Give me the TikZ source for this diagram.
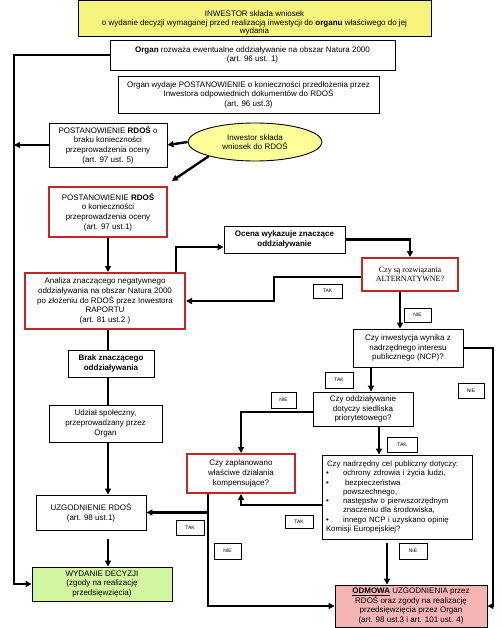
\documentclass[tikz,border=0pt]{standalone}
\usepackage{fontspec}
\setmainfont{Liberation Sans}
\newfontfamily\serifface{Liberation Serif}
\usetikzlibrary{arrows.meta,shapes.geometric}
\definecolor{boxred}{RGB}{192,40,40}
\definecolor{topyellow}{RGB}{245,245,125}
\definecolor{ellyellow}{RGB}{255,255,153}
\definecolor{boxgreen}{RGB}{210,245,160}
\definecolor{boxpink}{RGB}{245,180,180}

\begin{document}
\begin{tikzpicture}[x=1pt,y=-1pt]
    		\newcommand{\leftx}{14} % left rail
    		\newcommand{\rightx}{493} % right rail
    		\newcommand{\midx}{108} % main column
    		\newcommand{\tip}{6pt} % size of the arrow tips

    		% set the styles of the boxes and the connectors
    		\tikzset{
    			box/.style={
    				draw,
    				line width=0.9pt,
    				fill=white,
    				align=center,
    				inner sep=1pt,
    				font=\fontsize{8}{9.6}\selectfont
    				},
    			redbox/.style={box, draw=boxred, line width=2pt},
    			tag/.style={draw, line width=0.8pt, fill=white, inner sep=0pt, font=\fontsize{5}{5}\selectfont},
    			conn/.style={line width=2.4pt},
    			arr/.style={conn, -{Triangle[length=\tip,width=\tip]}}
    		}

    		\useasboundingbox[fill=white] (0,0) rectangle (501,628);

    		% rails
    		\coordinate (leftrail) at (\leftx,0);
    		\coordinate (rightrail) at (\rightx,0);
    		\coordinate (midcol) at (\midx,0);
    		\coordinate (takbend) at (274,0);
    		\coordinate (kontip) at (172,181);

    		% top of the procedure
    		\node[box, fill=topyellow, minimum width=353pt, minimum height=36pt, inner ysep=0.5pt, font=\fontsize{8}{8.4}\selectfont] (inwestor) at (254.5,18)
    			{\rule{0pt}{16pt}INWESTOR składa wniosek\\o wydanie decyzji wymaganej przed realizacją inwestycji do \textbf{organu} właściwego do jej\\wydania};
    		\node[box, minimum width=285pt, minimum height=30pt] (organ) at (252.5,55)
    			{\textbf{Organ} rozważa ewentualne oddziaływanie na obszar Natura 2000\\(art. 96 ust. 1)};
    		\node[box, minimum width=261pt, minimum height=37pt] (postorgan) at (248.5,94.5)
    			{Organ wydaje POSTANOWIENIE o konieczności przedłożenia przez\\Inwestora  odpowiednich  dokumentów do RDOŚ\\(art. 96 ust.3)};

    		% RDOS
    		\node[box, minimum width=118pt, minimum height=44pt] (braku) at (108,145)
    			{POSTANOWIENIE \textbf{RDOŚ} o\\braku konieczności\\przeprowadzenia oceny\\(art. 97 ust. 5)};
    		\node[box, ellipse, fill=ellyellow, minimum width=134pt, minimum height=38pt] (wniosek) at (255,142)
    			{Inwestor składa\\wniosek do RDOŚ};
    		\node[redbox, minimum width=118pt, minimum height=50pt] (koniecz) at (108,212)
    			{POSTANOWIENIE \textbf{RDOŚ}\\o konieczności\\przeprowadzenia oceny\\(art. 97 ust.1)};
    		\node[redbox, minimum width=160pt, minimum height=56pt] (analiza) at (105,301)
    			{Analiza znaczącego negatywnego\\oddziaływania na obszar Natura 2000\\po złożeniu do RDOŚ  przez Inwestora\\RAPORTU\\(art. 81 ust.2 )};
    		\node[box, minimum width=121pt, minimum height=27pt] (ocena) at (284.5,239.5)
    			{\textbf{Ocena wykazuje znaczące}\\\textbf{oddziaływanie}};
    		\node[redbox, minimum width=96pt, minimum height=33pt, font=\serifface\fontsize{8}{9.6}\selectfont] (alter) at (410,274.5)
    			{Czy są rozwiązania\\ALTERNATYWNE?};
    		\node[box, minimum width=110pt, minimum height=38pt] (ncp) at (408,348)
    			{Czy inwestycja wynika z\\nadrzędnego interesu\\publicznego (NCP)?};

    		% left column
    		\node[box, minimum width=86pt, minimum height=27pt] (brak) at (111,363.5)
    			{\textbf{Brak  znaczącego}\\\textbf{oddziaływania}};
    		\node[box, minimum width=113pt, minimum height=37pt] (udzial) at (105.5,423.5)
    			{Udział społeczny,\\przeprowadzany przez\\Organ};
    		\node[box, minimum width=110pt, minimum height=35pt] (uzg) at (91,512.5)
    			{UZGODNIENIE RDOŚ\\(art. 98 ust.1)};
    		\node[box, fill=boxgreen, minimum width=140pt, minimum height=34pt] (wydanie) at (102,584)
    			{WYDANIE DECYZJI\\(zgody na realizację\\przedsięwzięcia)};

    		% right side
    		\node[box, minimum width=100pt, minimum height=34pt] (prior) at (363,409)
    			{Czy oddziaływanie\\dotyczy siedliska\\priorytetowego?};
    		\node[redbox, minimum width=108pt, minimum height=39pt] (kompens) at (241,473.5)
    			{Czy zaplanowano\\właściwe działania\\kompensujące?};
    		\node[box, align=left, text width=146pt, inner xsep=2pt, minimum height=84pt, font=\fontsize{7.8}{9.3}\selectfont] (cel) at (397,497)
    			{\hspace*{3pt}Czy nadrzędny cel publiczny  dotyczy:\\
    			\hspace*{2pt}\makebox[17pt][l]{\textbullet}ochrony zdrowia i życia ludzi,\\
    			\hspace*{2pt}\makebox[19pt][l]{\textbullet}bezpieczeństwa\\
    			\hspace*{19pt}powszechnego,\\
    			\hspace*{2pt}\makebox[17pt][l]{\textbullet}następstw o pierwszorzędnym\\
    			\hspace*{19pt}znaczeniu dla środowiska,\\
    			\hspace*{2pt}\makebox[17pt][l]{\textbullet}innego  NCP i uzyskano opinię\\
    			\hspace*{2pt}Komisji Europejskiej?};
    		\node[box, fill=boxpink, minimum width=152pt, minimum height=42pt] (odmowa) at (411,606)
    			{\textbf{\underline{ODMOWA}} UZGODNIENIA przez\\RDOŚ oraz zgody na realizację\\przedsięwzięcia przez Organ\\(art. 98 ust.3 i art. 101 ust. 4)};

    		% answers
    		\node[tag, minimum width=29pt, minimum height=14pt] (tak1) at (327.5,291) {TAK};
    		\node[tag, minimum width=27pt, minimum height=14pt] (nie1) at (417.5,315) {NIE};
    		\node[tag, minimum width=28pt, minimum height=16pt] (tak2) at (339,380) {TAK};
    		\node[tag, minimum width=26pt, minimum height=15pt] (nie2) at (471,390.5) {NIE};
    		\node[tag, minimum width=25pt, minimum height=16pt] (nie3) at (283.5,400) {NIE};
    		\node[tag, minimum width=30pt, minimum height=15pt] (tak3) at (402,444.5) {TAK};
    		\node[tag, minimum width=28pt, minimum height=15pt] (tak4) at (190,527.5) {TAK};
    		\node[tag, minimum width=28pt, minimum height=13pt] (tak5) at (299,521.5) {TAK};
    		\node[tag, minimum width=27pt, minimum height=16pt] (nie4) at (227.5,551) {NIE};
    		\node[tag, minimum width=28pt, minimum height=16pt] (nie5) at (413,551) {NIE};

    		% connectors on the left
    		\draw[arr] (organ.west) -- (organ.west -| leftrail) |- (wydanie.west);
    		\draw[arr] (braku.west) -- (braku.west -| leftrail);
    		\draw[arr] (wniosek.west) -- (braku.east);
    		\draw[arr] (wniosek.197) -- (kontip);
    		\draw[arr] (midcol |- koniecz.south) -- (midcol |- analiza.north);
    		\draw[conn] (midcol |- analiza.south) -- (midcol |- brak.north);
    		\draw[conn] (midcol |- brak.south) -- (midcol |- udzial.north);
    		\draw[arr] (midcol |- udzial.south) -- (midcol |- uzg.north);
    		\draw[arr] ([yshift=-9pt]midcol |- uzg.south) -- (midcol |- wydanie.north);

    		% connectors of the assessment
    		\draw[arr] ([xshift=71pt]analiza.north) |- ([yshift=-7.5pt]ocena.west);
    		\draw[arr] (ocena.east) -| (alter.north);
    		\draw[arr] ([yshift=-2.5pt]alter.west) -| (takbend |- analiza.east) -- (analiza.east);
    		\draw[arr] ([xshift=-10pt]alter.south) -- ([xshift=-10pt]alter.south |- ncp.north);
    		\draw[arr] ([xshift=8pt]prior.north |- ncp.south) -- ([xshift=8pt]prior.north);
    		\draw[arr] (ncp.east) -| (rightrail |- odmowa.east) -- (odmowa.east);
    		\draw[arr] ([yshift=-3pt]prior.west) -| (kompens.north);
    		\draw[arr] ([xshift=16pt]prior.south) -- ([xshift=16pt]prior.south |- cel.north);
    		\draw[arr] ([yshift=-8pt]cel.west) -| (kompens.south);
    		\draw[arr] ([xshift=-33pt]kompens.south) |- (odmowa.west);
    		\draw[arr] ([xshift=-33pt]kompens.south |- uzg.east) -- (uzg.east);
    		\draw[arr] ([xshift=-10pt,yshift=-4pt]cel.south) -- ([xshift=-10pt]cel.south |- odmowa.north);

\end{tikzpicture}
\end{document}
